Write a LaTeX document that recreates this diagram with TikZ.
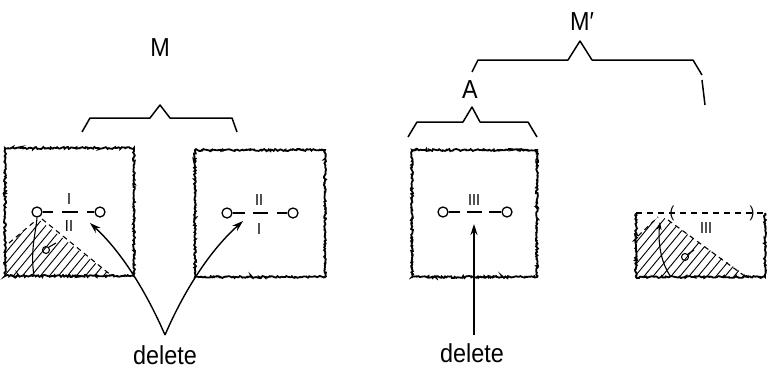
\documentclass[tikz,border=0pt]{standalone}
\usepackage{fontspec}
\setmainfont{Liberation Sans}[FakeStretch=0.9]
\usetikzlibrary{decorations.pathmorphing,arrows.meta}
\begin{document}
\begin{tikzpicture}[x=1pt,y=-1pt,
  rough/.style={draw, line width=1.8pt, decorate, decoration={random steps, segment length=1.3pt, amplitude=1pt}},
  term/.style={circle, draw, line width=1.3pt, minimum size=10pt, inner sep=0pt},
  wire/.style={line width=1.3pt},
  brace/.style={line width=1.5pt, line join=round},
  arr/.style={line width=1.4pt, -{Stealth[length=11pt,width=7pt]}},
  lbl/.style={font=\fontsize{26}{26}\selectfont, inner sep=0pt},
  roman/.style={font=\fontsize{16}{16}\selectfont, inner sep=0pt},
  hatch/.style={line width=0.9pt},
  edge/.style={line width=1.1pt, dash pattern=on 5pt off 4pt}]
\pgfmathsetseed{7}
\useasboundingbox (0,0) rectangle (771,370);
% ---------- boxes ----------
\draw[rough] (5,148) rectangle (134,276);
\draw[rough] (195,150) rectangle (325,277);
\draw[rough] (412,150) rectangle (537,277);
\draw[rough] (636,213) -- (636,277) -- (765,277) -- (765,213);
\draw[line width=1.1pt, dash pattern=on 6pt off 5pt] (636,213) -- (765,213);
% ---------- box 1 ----------
\begin{scope}
  \clip (5,247) -- (38,219) -- (112,276) -- (5,276) -- cycle;
  \foreach \k in {-80,-71,...,130} \draw[hatch] (\k,280) -- ++(66,-80);
\end{scope}
\draw[edge] (9,243) -- (34,222);
\draw[edge] (42,219) -- (112,276);
\node[term] (c1) at (37,212) {};
\node[term] (c2) at (100,212) {};
\draw[wire] (c1.east) -- (53,212);
\draw[wire] (62,212) -- (78,212);
\draw[wire] (87,212) -- (c2.west);
\node[roman] (r1a) at (69,199) {I};
\node[roman] (r1b) at (69,226) {II};
\draw[line width=1.1pt] (c1.south) .. controls (36,232) and (30,250) .. (34,276);
\node[circle, draw, line width=1.1pt, minimum size=7pt, inner sep=0pt] (s1) at (46,250) {};
\draw[line width=1.1pt] (s1.north east) -- (56,243);
% ---------- box 2 ----------
\node[term] (c3) at (227,213) {};
\node[term] (c4) at (293,213) {};
\draw[wire] (c3.east) -- (245,213);
\draw[wire] (253,213) -- (268,213);
\draw[wire] (277,213) -- (c4.west);
\node[roman] (r2a) at (259,200) {II};
\node[roman] (r2b) at (259,229) {I};
% ---------- box 3 ----------
\node[term] (c5) at (443,212) {};
\node[term] (c6) at (507,212) {};
\draw[wire] (c5.east) -- (460,212);
\draw[wire] (467,212) -- (482,212);
\draw[wire] (489,212) -- (c6.west);
\node[roman] (r3) at (474,200) {III};
% ---------- box 4 ----------
\begin{scope}
  \clip (636,238) -- (660,215) -- (748,277) -- (636,277) -- cycle;
  \foreach \k in {560,569,...,760} \draw[hatch] (\k,280) -- ++(66,-80);
\end{scope}
\draw[edge] (638,236) -- (658,217);
\draw[edge] (668,220) -- (746,277);
\node[roman] (r4) at (706,228) {III};
\node[roman] (p1) at (672,213) {(};
\node[roman] (p2) at (752,213) {)};
\coordinate (t4) at (660,222);
\draw[line width=1.1pt, -{Stealth[length=8pt,width=5pt]}] (671,277) .. controls (660,262) and (658,240) .. (t4);
\node[circle, draw, line width=1.1pt, minimum size=7pt, inner sep=0pt] (s4) at (685,257) {};
\draw[line width=1.1pt] (s4.north east) -- (694,250);
% ---------- braces ----------
\draw[brace] (82,132) -- (90,118) -- (150,118) -- (160,105) -- (170,118) -- (232,118) -- (237,132);
\node[lbl] (M) at (160,48) {M};
\draw[brace] (472,72) -- (478,60) -- (568,60) -- (580,41) -- (592,60) -- (693,60) -- (702,75);
\draw[brace] (702,80) -- (705,105);
\node[lbl] (Mp) at (582,22) {M′};
\draw[brace] (408,137) -- (417,122) -- (463,122) -- (472,107) -- (480,122) -- (528,122) -- (537,137);
\node[lbl] (A) at (470,90) {A};
% ---------- delete ----------
\node[lbl] (d1) at (165,355) {delete};
\node[lbl] (d2) at (472,353) {delete};
\coordinate (v1) at (165,335);
\coordinate (a1) at (90,223);
\coordinate (a2) at (243,221);
\draw[arr] (v1) .. controls (150,300) and (125,255) .. (a1);
\draw[arr] (v1) .. controls (180,300) and (205,255) .. (a2);
\coordinate (v2) at (474,335);
\draw[arr] (v2) -- (474,224);
\end{tikzpicture}
\end{document}
